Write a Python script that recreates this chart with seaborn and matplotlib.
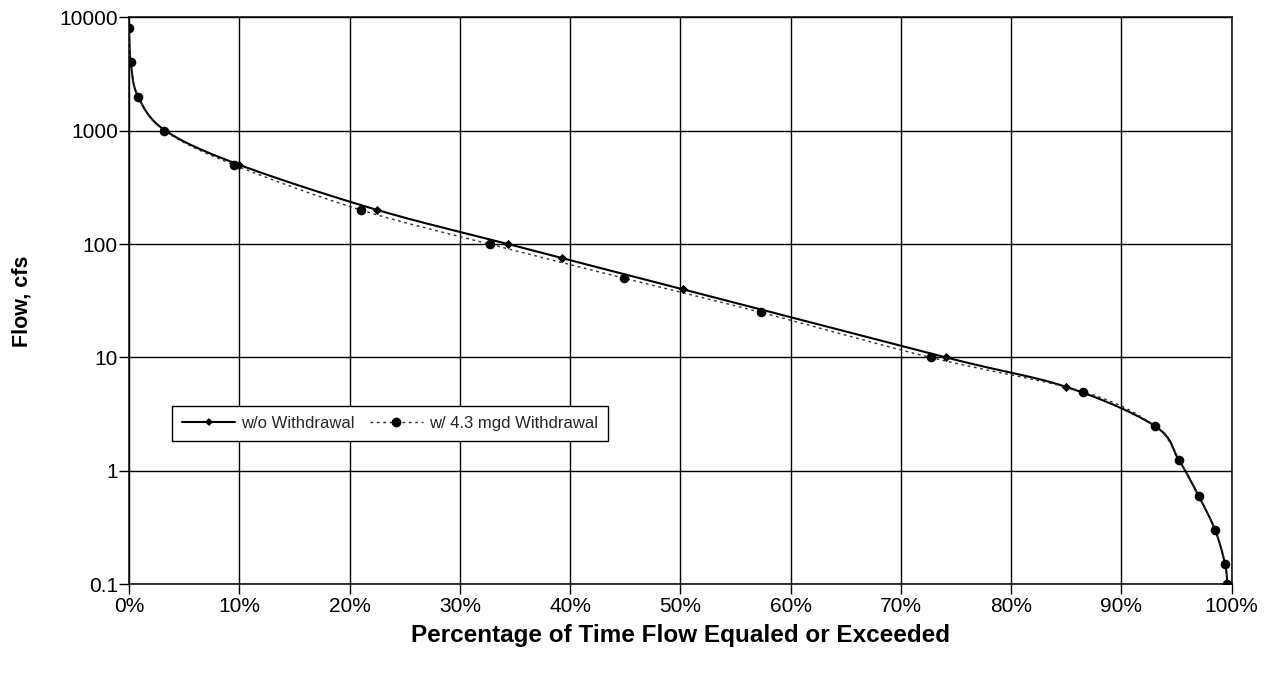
import matplotlib
matplotlib.use("Agg")
import matplotlib.pyplot as plt
import matplotlib.ticker as mticker
from matplotlib.lines import Line2D
import numpy as np
import pandas as pd
import seaborn as sns

# Flow-duration data: percent of time equaled or exceeded and flow (cfs)
pct_without = [0.0, 0.15, 0.82, 3.3, 10.0, 22.5, 34.4, 39.3, 50.2, 74.1, 85.0,
               93.0, 95.2, 97.0, 98.5, 99.4, 99.6]
flow_without = [8000, 4000, 2000, 1000, 500, 200, 100, 75, 40, 10, 5.5,
                2.5, 1.25, 0.6, 0.3, 0.15, 0.1]

pct_with = [0.0, 0.15, 0.82, 3.2, 9.5, 21.0, 32.7, 44.9, 57.3, 72.7, 86.5,
            93.0, 95.2, 97.0, 98.5, 99.4, 99.6]
flow_with = [8000, 4000, 2000, 1000, 500, 200, 100, 50, 25, 10, 5,
             2.5, 1.25, 0.6, 0.3, 0.15, 0.1]

label_without = "w/o Withdrawal"
label_with = "w/ 4.3 mgd Withdrawal"

x_ticks = [0, 10, 20, 30, 40, 50, 60, 70, 80, 90, 100]
y_ticks = [0.1, 1, 10, 100, 1000, 10000]
y_tick_labels = ["0.1", "1", "10", "100", "1000", "10000"]


def smooth_curve(xs, ys, sx=11.0, sy=113.4, n=24):
    """Bezier smoothing through every point, computed in display-like units
    (linear x, log y) the way a spreadsheet 'smoothed line' does it."""
    px = np.asarray(xs, float) * sx
    py = np.log10(np.asarray(ys, float)) * sy
    pts = np.column_stack([px, py])
    ext = np.vstack([pts[0], pts, pts[-1]])
    t = np.linspace(0, 1, n)[:, None]
    out = [pts[:1]]
    for i in range(len(pts) - 1):
        p0, p1, p2, p3 = ext[i], ext[i + 1], ext[i + 2], ext[i + 3]
        c1 = p1 + (p2 - p0) / 6.0
        c2 = p2 - (p3 - p1) / 6.0
        seg = ((1 - t) ** 3) * p1 + 3 * ((1 - t) ** 2) * t * c1 \
            + 3 * (1 - t) * t ** 2 * c2 + t ** 3 * p2
        out.append(seg[1:])
    curve = np.vstack(out)
    return curve[:, 0] / sx, 10 ** (curve[:, 1] / sy)


sns.set_theme(style="white")
plt.rcParams["font.family"] = ["Liberation Sans", "DejaVu Sans"]

sx0, sy0 = smooth_curve(pct_without, flow_without)
sx1, sy1 = smooth_curve(pct_with, flow_with)
curve_without = pd.DataFrame({"pct": sx0, "flow": sy0})
curve_with = pd.DataFrame({"pct": sx1, "flow": sy1})
pts_without = pd.DataFrame({"pct": pct_without, "flow": flow_without})
pts_with = pd.DataFrame({"pct": pct_with, "flow": flow_with})

fig = plt.figure(figsize=(12.8, 6.75), dpi=100)
ax = fig.add_axes([0.1008, 0.1344, 0.8615, 0.840])

ink = "black"
dot_style = (0, (2.0, 2.6))

sns.lineplot(data=curve_without, x="pct", y="flow", ax=ax, color=ink,
             linewidth=1.5, sort=False, estimator=None, legend=False, zorder=3)
sns.lineplot(data=curve_with, x="pct", y="flow", ax=ax, color="#303030",
             linewidth=1.0, linestyle=dot_style, sort=False, estimator=None,
             legend=False, zorder=4)
sns.scatterplot(data=pts_without, x="pct", y="flow", ax=ax, color=ink,
                marker="D", s=22, linewidth=0, legend=False, zorder=5)
sns.scatterplot(data=pts_with, x="pct", y="flow", ax=ax, color=ink,
                marker="o", s=48, linewidth=0, legend=False, zorder=6)

ax.set_yscale("log")
ax.set_xlim(0, 100)
ax.set_ylim(0.1, 10000)

ax.set_xticks(x_ticks)
ax.xaxis.set_major_formatter(mticker.FuncFormatter(lambda v, p: f"{v:.0f}%"))
ax.set_yticks(y_ticks)
ax.set_yticklabels(y_tick_labels)
ax.yaxis.set_minor_locator(mticker.NullLocator())

ax.grid(True, which="major", color=ink, linewidth=1.0)
ax.set_axisbelow(True)
for s in ax.spines.values():
    s.set_color(ink)
    s.set_linewidth(1.1)
    s.set_visible(True)

ax.tick_params(axis="both", which="major", direction="out", length=7,
               width=1.0, color=ink, labelsize=15, labelcolor=ink,
               bottom=True, left=True)
ax.tick_params(axis="x", pad=2)
ax.tick_params(axis="y", pad=1)

ax.set_xlabel("Percentage of Time Flow Equaled or Exceeded", fontsize=17.5,
              fontweight="bold", labelpad=6, color=ink)
ax.set_ylabel("Flow, cfs", fontsize=15.5, fontweight="bold", labelpad=19,
              color=ink)

handles = [
    Line2D([], [], color=ink, linewidth=1.5, marker="D", markersize=4.5,
           markeredgewidth=0),
    Line2D([], [], color="#303030", linewidth=1.0, linestyle=dot_style,
           marker="o", markersize=7, markeredgewidth=0, markerfacecolor=ink),
]
leg = ax.legend(handles, [label_without, label_with], loc="lower left",
                bbox_to_anchor=(0.039, 0.2527), ncol=2, frameon=True,
                fancybox=False, shadow=False, fontsize=12,
                handlelength=3.2, handletextpad=0.35, columnspacing=0.9,
                borderpad=0.6, borderaxespad=0)
frame = leg.get_frame()
frame.set_edgecolor(ink)
frame.set_linewidth(1.0)
frame.set_facecolor("white")
frame.set_alpha(1.0)

fig.savefig("out.png", dpi=100)
